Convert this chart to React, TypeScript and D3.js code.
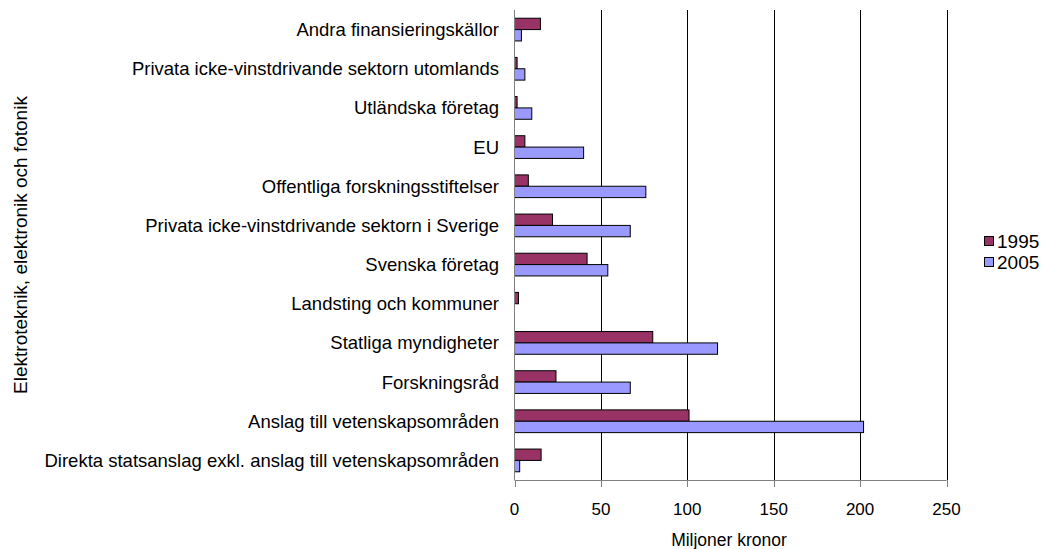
import React from 'react';
import { scaleLinear, scaleBand } from 'd3';

// top to bottom, as shown
const categories = [
  'Andra finansieringskällor',
  'Privata icke-vinstdrivande sektorn utomlands',
  'Utländska företag',
  'EU',
  'Offentliga forskningsstiftelser',
  'Privata icke-vinstdrivande sektorn i Sverige',
  'Svenska företag',
  'Landsting och kommuner',
  'Statliga myndigheter',
  'Forskningsråd',
  'Anslag till vetenskapsområden',
  'Direkta statsanslag exkl. anslag till vetenskapsområden',
];
const values1995 = [15, 1.5, 1.5, 6, 8, 22, 42, 2.3, 80, 24, 101, 15.4];
const values2005 = [4, 6, 10, 40, 76, 67, 54, 0, 117.5, 67, 202, 3];
const series = ['1995', '2005'];
const colors = ['#993366', '#9999FF'];
const xTicks = [0, 50, 100, 150, 200, 250];

export default function App() {
  const width = 1043;
  const height = 549;
  const left = 514.5;
  const right = 946.5;
  const top = 10;
  const bottom = 480;
  const font = 'Liberation Sans, Arial, sans-serif';

  const x = scaleLinear().domain([0, 250]).range([left, right]);
  const y = scaleBand().domain(categories).range([top, bottom]);
  const bw = y.bandwidth();
  const inner = scaleBand().domain(series).range([bw * 0.21, bw * 0.79]);
  const data = [values1995, values2005];

  return (
    <svg width={width} height={height} style={{ position: 'absolute', left: 0, top: 0 }}>
      <rect width={width} height={height} fill="#fff" />
      {xTicks.slice(1).map(t => (
        <line key={t} x1={Math.round(x(t)) + 0.5} x2={Math.round(x(t)) + 0.5} y1={top} y2={bottom} stroke="#000" />
      ))}
      {categories.map((c, i) =>
        series.map((s, j) => {
          const v = data[j][i];
          if (!v) return null;
          return (
            <rect
              key={c + s}
              x={x(0)}
              y={(y(c) as number) + (inner(s) as number)}
              width={x(v) - x(0)}
              height={inner.bandwidth()}
              fill={colors[j]}
              stroke="#000"
              strokeWidth={1}
            />
          );
        })
      )}
      <line x1={left} x2={left} y1={top} y2={bottom} stroke="#808080" />
      <line x1={left} x2={right} y1={bottom + 0.5} y2={bottom + 0.5} stroke="#808080" />
      {xTicks.map(t => (
        <g key={t}>
          <line x1={Math.round(x(t)) + 0.5} x2={Math.round(x(t)) + 0.5} y1={bottom} y2={bottom + 7} stroke="#808080" />
          <text x={x(t)} y={515} textAnchor="middle" fontFamily={font} fontSize={17}>{t}</text>
        </g>
      ))}
      {categories.map(c => (
        <text key={c} x={499} y={(y(c) as number) + bw / 2 + 6.5} textAnchor="end" fontFamily={font} fontSize={18.5}>{c}</text>
      ))}
      <text x={729} y={545.5} textAnchor="middle" fontFamily={font} fontSize={17.5}>Miljoner kronor</text>
      <text transform="translate(27,245) rotate(-90)" textAnchor="middle" fontFamily={font} fontSize={19}>
        Elektroteknik, elektronik och fotonik
      </text>
      {series.map((s, j) => (
        <g key={s} transform={`translate(984,${248 + j * 21})`}>
          <rect x={0.5} y={-11.5} width={9} height={9} fill={colors[j]} stroke="#000" />
          <text x={13} y={0} fontFamily={font} fontSize={19}>{s}</text>
        </g>
      ))}
    </svg>
  );
}
